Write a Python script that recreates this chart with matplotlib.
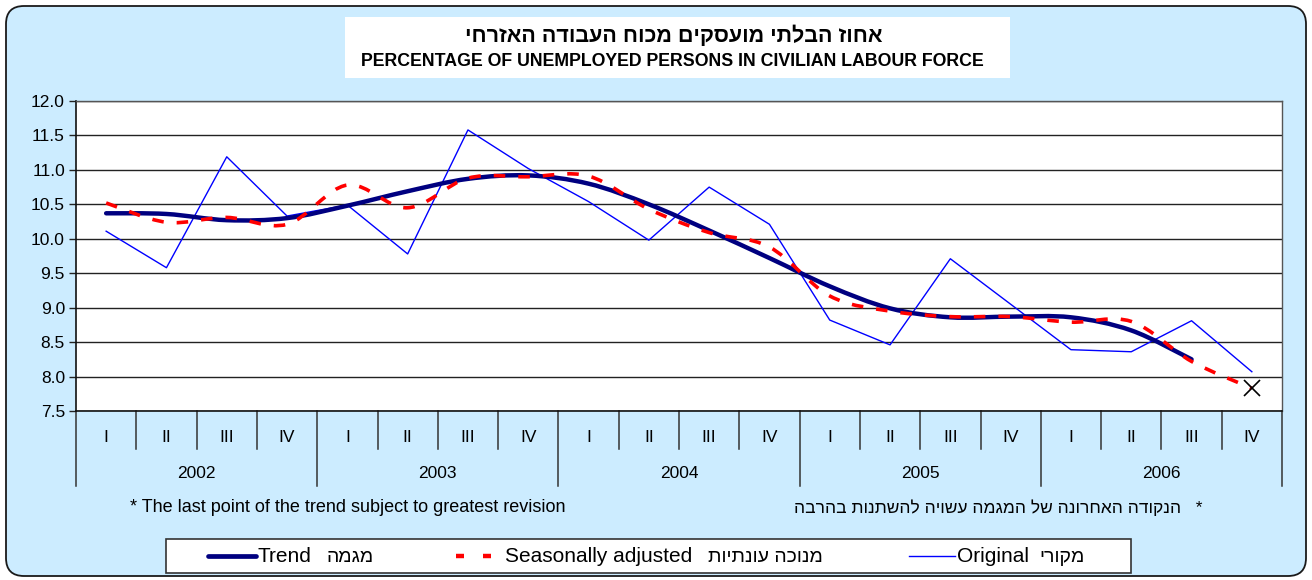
import numpy as np
import matplotlib
matplotlib.use("Agg")
import matplotlib.pyplot as plt
from matplotlib.path import Path
from matplotlib.patches import PathPatch, FancyBboxPatch, Rectangle
from matplotlib.lines import Line2D
import matplotlib.transforms as mtransforms

plt.rcParams['font.family'] = ['Liberation Sans', 'DejaVu Sans']

# ---------------- data ----------------
years = ["2002", "2003", "2004", "2005", "2006"]
quarters = ["I", "II", "III", "IV"]

original = [10.11, 9.58, 11.19, 10.33,
            10.49, 9.78, 11.58, 11.02,
            10.54, 9.98, 10.75, 10.21,
            8.82, 8.46, 9.71, 9.05,
            8.39, 8.36, 8.81, 8.07]
seasonal = [10.52, 10.24, 10.31, 10.21,
            10.78, 10.45, 10.88, 10.90,
            10.91, 10.43, 10.09, 9.88,
            9.17, 8.95, 8.87, 8.87,
            8.79, 8.80, 8.22, 7.83]
trend = [10.37, 10.36, 10.27, 10.30,
         10.48, 10.69, 10.87, 10.92,
         10.80, 10.50, 10.12, 9.72,
         9.31, 8.99, 8.86, 8.87,
         8.86, 8.67, 8.25]

yticks = [7.5, 8.0, 8.5, 9.0, 9.5, 10.0, 10.5, 11.0, 11.5, 12.0]

title_he = "אחוז הבלתי מועסקים מכוח העבודה האזרחי"
title_en = "PERCENTAGE OF UNEMPLOYED PERSONS IN CIVILIAN LABOUR FORCE"
note_en = "* The last point of the trend subject to greatest revision"
note_he = "הנקודה האחרונה של המגמה עשויה להשתנות בהרבה"
leg_en = ["Trend", "Seasonally adjusted", "Original"]
leg_he = ["מגמה", "מנוכה עונתיות", "מקורי"]


def vis(s):
    # visual (left-to-right) order for Hebrew text
    return s[::-1]


def smooth_path(x, y):
    pts = np.column_stack([x, y]).astype(float)
    n = len(pts)
    verts = [pts[0]]
    codes = [Path.MOVETO]
    for i in range(n - 1):
        p0 = pts[i - 1] if i > 0 else pts[i]
        p1 = pts[i]
        p2 = pts[i + 1]
        p3 = pts[i + 2] if i + 2 < n else pts[i + 1]
        c1 = p1 + (p2 - p0) / 6.0
        c2 = p2 - (p3 - p1) / 6.0
        verts += [c1, c2, p2]
        codes += [Path.CURVE4] * 3
    return Path(verts, codes)


W, H = 1312, 580
fig = plt.figure(figsize=(W / 100, H / 100), dpi=100)
fig.patch.set_facecolor("white")

# background axes in pixel coordinates
bg = fig.add_axes([0, 0, 1, 1])
bg.set_xlim(0, W)
bg.set_ylim(H, 0)
bg.axis("off")
bgcol = "#CCECFF"
bg.add_patch(FancyBboxPatch((6, 6), W - 12, H - 10,
                            boxstyle="round,pad=0,rounding_size=18",
                            facecolor=bgcol, edgecolor="#1a1a1a", lw=1.3))
# title box
bg.add_patch(Rectangle((345, 17), 665, 61, facecolor="white", edgecolor="none"))
bg.text(674, 36, vis(title_he), ha="center", va="center",
        fontsize=15.5, fontweight="bold", color="black")
bg.text(672, 61, title_en, ha="center", va="center",
        fontsize=12.8, fontweight="bold", color="black")

# footnotes
bg.text(130, 508, note_en, ha="left", va="center", fontsize=13)
bg.text(1202, 508, vis(note_he) + "   *", ha="right", va="center", fontsize=12.5)

# legend box
bg.add_patch(Rectangle((166, 539), 965, 34, facecolor="white",
                       edgecolor="#333333", lw=1.2))
ly = 556
bg.add_line(Line2D([208, 256], [ly, ly], color="#000080", lw=3.4,
                   solid_capstyle="round"))
bg.add_line(Line2D([456, 464], [ly, ly], color="red", lw=3.2, solid_capstyle="butt"))
bg.add_line(Line2D([483, 491], [ly, ly], color="red", lw=3.2, solid_capstyle="butt"))
bg.add_line(Line2D([909, 955], [ly, ly], color="#0000FF", lw=1.0))
for xe, te, xh, th in [(258, leg_en[0], 327, leg_he[0]),
                       (505, leg_en[1], 708, leg_he[1]),
                       (957, leg_en[2], 1039, leg_he[2])]:
    bg.text(xe, ly + 1, te, ha="left", va="center", fontsize=15)
    bg.text(xh, ly + 1, vis(th), ha="left", va="center", fontsize=14)

# ---------------- main plot ----------------
left, right, top, bottom = 76, 1282, 101, 411
ax = fig.add_axes([left / W, 1 - bottom / H, (right - left) / W, (bottom - top) / H])
ax.set_facecolor("white")
n = len(original)
x = np.arange(n)
ax.set_xlim(-0.5, n - 0.5)
ax.set_ylim(7.5, 12.0)
ax.set_yticks(yticks)
ax.set_yticklabels([f"{v:.1f}" for v in yticks], fontsize=12.5)
ax.tick_params(axis="y", length=5, width=1, color="#222222", pad=3)
ax.set_xticks([])
for v in yticks:
    ax.axhline(v, color="#222222", lw=1.0, zorder=1)
for s in ["left", "bottom"]:
    ax.spines[s].set_color("#111111")
    ax.spines[s].set_linewidth(1.2)
for s in ["top", "right"]:
    ax.spines[s].set_color("#555555")
    ax.spines[s].set_linewidth(1.0)

ax.plot(x, original, color="#0000FF", lw=1.0, zorder=3)
xt = np.arange(len(trend))
ax.add_patch(PathPatch(smooth_path(xt, trend), fill=False, edgecolor="#000080",
                       lw=3.2, capstyle="round", joinstyle="round", zorder=4))
ax.add_patch(PathPatch(smooth_path(x, seasonal), fill=False, edgecolor="red",
                       lw=2.6, linestyle=(0, (3.2, 3.6)), capstyle="butt", zorder=5))
ax.plot([x[-1]], [seasonal[-1]], marker="x", color="black", markersize=12,
        mew=1.2, linestyle="none", zorder=6)

# category axis below the plot
tr = mtransforms.blended_transform_factory(ax.transData, ax.transAxes)
h = bottom - top
q_end = -(449 - bottom) / h
y_end = -(486 - bottom) / h
for i in range(n + 1):
    pos = i - 0.5
    yend = y_end if i % 4 == 0 else q_end
    ax.add_line(Line2D([pos, pos], [0, yend], transform=tr, color="#333333",
                       lw=1.1, clip_on=False))
q_y = -(437 - bottom) / h
yr_y = -(474 - bottom) / h
for i in range(n):
    ax.text(i, q_y, quarters[i % 4], transform=tr, ha="center", va="center",
            fontsize=12.5, clip_on=False)
for j, yr in enumerate(years):
    ax.text(j * 4 + 1.5, yr_y, yr, transform=tr, ha="center", va="center",
            fontsize=12.5, clip_on=False)

fig.savefig("out.png", dpi=100, facecolor=fig.get_facecolor())
